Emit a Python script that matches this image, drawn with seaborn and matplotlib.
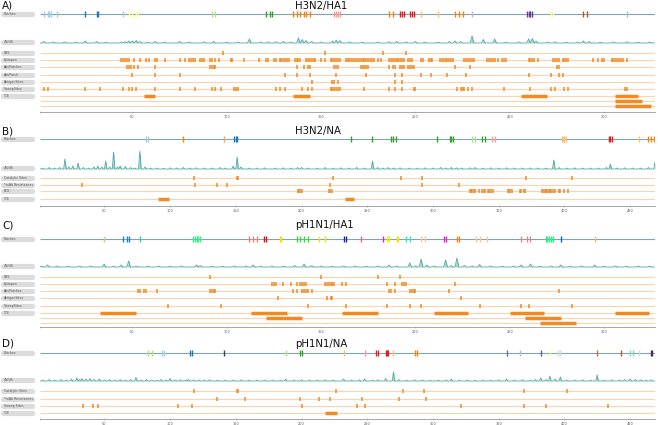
import numpy as np
import pandas as pd
import seaborn as sns
import matplotlib.pyplot as plt
from matplotlib.transforms import blended_transform_factory

sns.set_theme(style="white")
plt.rcParams["font.family"] = ["DejaVu Sans"]

# ---------------- A) H3N2 / HA1 ----------------
a_patch_x = [3, 5, 6, 7, 10, 45, 25, 31, 32, 48, 50, 52, 53, 92, 94, 121, 123, 124,
             135, 137, 139, 141, 142, 144, 157, 158, 159, 160, 186, 188,
             192, 193, 194, 197, 198, 199, 203, 212, 221, 223, 225, 230,
             259, 260, 261, 262, 272, 273, 289, 291, 312]
a_patch_c = ["#a6cee3"] * 6 + ["#1f78b4"] * 3 + ["#ffff99"] * 4 + ["#b2df8a"] * 2 + ["#33a02c"] * 3 + \
            ["#ff7f00"] * 6 + ["#fb9a99"] * 4 + ["#ff7f00"] * 2 + ["#e31a1c"] * 6 + ["#fdbf6f"] * 2 + \
            ["#ff7f00"] * 3 + ["#cab2d6"] + ["#6a3d9a"] * 4 + ["#ffff99"] * 2 + ["#b15928"] * 2 + ["#9cc9c9"]
a_dnds_x = [3, 8, 14, 20, 25, 31, 36, 44, 46, 48, 50, 52, 54, 58, 62, 67, 75, 80, 88, 93, 100, 106,
            112, 118, 122, 126, 130, 134, 138, 140, 142, 145, 150, 156, 158, 160, 165, 172, 180, 186,
            190, 195, 200, 205, 212, 218, 221, 224, 230, 236, 242, 248, 255, 260, 262, 264, 270, 274,
            280, 286, 289, 292, 298, 305, 312, 318, 324]
a_dnds_v = [0.15, 0.1, 0.1, 0.08, 0.2, 0.15, 0.08, 0.1, 0.15, 0.2, 0.2, 0.25, 0.15, 0.1, 0.15, 0.08,
            0.15, 0.1, 0.12, 0.15, 0.08, 0.1, 0.4, 0.1, 0.12, 0.12, 0.15, 0.1, 0.5, 0.35, 0.25, 0.15,
            0.1, 0.2, 0.3, 0.25, 0.1, 0.08, 0.1, 0.12, 0.15, 0.12, 0.15, 0.1, 0.08, 0.15, 0.2, 0.15,
            0.7, 0.35, 0.4, 0.08, 0.1, 0.4, 0.45, 0.2, 0.1, 0.12, 0.08, 0.1, 0.2, 0.15, 0.08, 0.1,
            0.12, 0.08, 0.1]
a_ebs = [98, 152, 183, 195]
a_epitopes = [44, 45, 46, 47, 48, 51, 54, 57, 59, 62, 63, 67, 75, 78, 80, 81, 82, 83, 86, 87, 88,
              91, 92, 94, 96, 102, 103, 109, 117, 121, 122, 125, 126, 128, 129, 130, 131, 132, 133,
              136, 137, 138, 139, 142, 143, 144, 145, 146, 147, 150, 152, 155, 156, 157, 158, 159,
              160, 163, 164, 165, 166, 167, 168, 169, 170, 171, 172, 173, 174, 175, 176, 177, 178,
              180, 182, 186, 187, 188, 189, 190, 191, 192, 193, 194, 196, 197, 198, 203, 204, 207,
              208, 209, 213, 214, 215, 216, 217, 218, 219, 220, 226, 227, 228, 229, 230, 231, 238,
              239, 240, 241, 242, 244, 246, 247, 248, 260, 261, 262, 263, 265, 273, 274, 275, 276,
              278, 279, 280, 281, 294, 297, 299, 300, 304, 305, 306, 307, 308, 309, 310, 312]
a_abspatches = [47, 48, 49, 51, 53, 62, 91, 92, 93, 94, 137, 141, 143, 144, 157, 158, 159, 171, 172,
                173, 174, 175, 186, 188, 189, 192, 193, 194, 196, 197, 198, 199, 221, 229, 275, 276]
a_antipatch = [50, 62, 75, 131, 137, 144, 158, 174, 189, 193, 203, 208, 217, 227, 260, 272, 276, 278]
a_antigen = [145, 156, 157, 159, 189, 193]
a_sweep = [3, 5, 25, 33, 45, 48, 50, 52, 62, 75, 83, 92, 94, 97, 104, 105, 106, 126, 128, 131, 140,
           143, 145, 155, 156, 157, 158, 159, 160, 173, 186, 189, 193, 199, 200, 222, 224, 225, 226,
           228, 230, 247, 261, 272, 274, 279, 281, 311, 312]
a_tce_start = [56, 135, 256, 306, 306, 306]
a_tce_end = [62, 144, 270, 318, 320, 325]
a_tce_row = [0, 0, 0, 0, 1, 2]

# ---------------- B) H3N2 / NA ----------------
b_patch_x = [82, 83, 110, 141, 149, 150, 151, 238, 254, 268, 270, 272, 303, 313, 314, 315,
             330, 332, 337, 340, 345, 347, 398, 399, 400, 401, 434, 435, 436, 457, 464, 466, 468]
b_patch_c = ["#a6cee3"] * 2 + ["#ff7f00"] + ["#f4a55a"] + ["#1f78b4"] * 3 + ["#33a02c"] * 9 + \
            ["#b2df8a"] * 2 + ["#33a02c"] * 2 + ["#fb9a99"] * 2 + ["#fdbf6f"] * 4 + ["#e31a1c"] * 3 + \
            ["#fdbf6f"] + ["#ff7f00"] * 3
b_dnds_x = [3, 8, 12, 16, 20, 23, 26, 30, 34, 38, 42, 45, 48, 51, 54, 57, 60, 62, 66, 70, 73, 77, 81,
            85, 90, 95, 100, 105, 110, 115, 120, 126, 132, 138, 142, 148, 151, 154, 160, 166, 172,
            180, 186, 192, 197, 200, 205, 212, 218, 224, 230, 236, 242, 248, 254, 258, 262, 266, 270,
            275, 282, 288, 294, 300, 306, 310, 314, 318, 322, 328, 332, 338, 344, 350, 356, 362, 368,
            374, 380, 386, 392, 396, 402, 408, 414, 420, 426, 432, 435, 440, 446, 452, 458, 464, 469]
b_dnds_v = [0.1, 0.15, 0.1, 0.15, 1.0, 0.2, 0.3, 0.6, 0.15, 0.1, 0.2, 0.3, 0.2, 0.8, 0.2, 1.7, 0.2,
            0.3, 0.25, 0.15, 0.1, 1.8, 0.2, 0.1, 0.1, 0.08, 0.12, 0.1, 0.15, 0.1, 0.12, 0.1, 0.1,
            0.15, 0.1, 0.3, 1.2, 0.2, 0.1, 0.1, 0.12, 0.1, 0.12, 0.1, 0.15, 0.15, 0.1, 0.1, 0.15,
            0.1, 0.12, 0.1, 0.15, 0.1, 0.8, 0.15, 0.1, 0.15, 0.1, 0.12, 0.1, 0.1, 0.12, 0.1, 0.15,
            0.1, 0.15, 0.12, 0.1, 0.12, 0.15, 0.1, 0.12, 0.1, 0.12, 0.1, 0.1, 0.12, 0.1, 0.1, 0.9,
            0.15, 0.1, 0.12, 0.1, 0.1, 0.1, 0.15, 0.5, 0.1, 0.12, 0.1, 0.1, 0.15, 0.7]
b_catalytic = [118, 151, 152, 224, 276, 292, 371, 406]
b_mab = [33, 119, 136, 143, 222, 292, 320]
b_bce = [197, 198, 199, 200, 221, 222, 223, 328, 329, 330, 331, 332, 335, 337, 339, 340, 342, 343,
         344, 346, 357, 358, 359, 360, 366, 367, 369, 370, 383, 384, 385, 386, 387, 388, 389, 390,
         391, 393, 396, 397, 400, 403]
b_tce_start = [91, 233]
b_tce_end = [99, 240]
b_tce_row = [0, 0]

# ---------------- C) pH1N1 / HA1 ----------------
c_patch_x = [35, 45, 47, 48, 54, 82, 83, 84, 85, 86, 112, 114, 116, 120, 121, 128, 129,
             137, 139, 141, 143, 149, 152, 162, 163, 171, 183, 185, 186, 190, 191, 195, 197,
             203, 205, 215, 216, 222, 223, 232, 234, 238, 256, 259, 261,
             269, 270, 271, 272, 273, 277, 295]
c_patch_c = ["#e8c27a"] + ["#1e7fe0"] * 3 + ["#22d9a0"] + ["#30f080"] * 5 + ["#f08080"] * 3 + \
            ["#e01010"] * 2 + ["#e8e800"] * 2 + ["#30e030"] * 4 + ["#e8e800"] * 2 + ["#2020d0"] * 2 + \
            ["#f06090"] + ["#e020e0"] + ["#e8e800"] * 4 + ["#30e0e0"] * 2 + ["#f5c8a0"] * 2 + \
            ["#e020e0"] * 2 + ["#f08010"] * 2 + ["#f5c8a0"] * 3 + ["#f08090"] * 3 + ["#20f080"] * 5 + \
            ["#1060e0"] + ["#e8c27a"]
c_dnds_x = [2, 5, 10, 16, 22, 28, 35, 40, 44, 48, 52, 58, 64, 70, 76, 84, 86, 92, 98, 104, 110, 114,
            118, 124, 130, 136, 141, 145, 150, 156, 162, 168, 174, 180, 186, 190, 197, 200, 203, 206,
            210, 216, 219, 222, 226, 230, 234, 240, 246, 252, 256, 261, 266, 272, 277, 282, 288, 295,
            300, 306, 312, 318, 324]
c_dnds_v = [0.1, 0.2, 0.1, 0.08, 0.1, 0.1, 0.3, 0.1, 0.2, 0.6, 0.1, 0.08, 0.1, 0.08, 0.1, 0.2, 0.15,
            0.1, 0.08, 0.1, 0.1, 0.2, 0.1, 0.1, 0.08, 0.15, 0.3, 0.15, 0.1, 0.08, 0.1, 0.1, 0.08,
            0.1, 0.2, 0.1, 0.4, 0.1, 0.8, 0.2, 0.1, 0.7, 0.15, 0.9, 0.15, 0.1, 0.25, 0.1, 0.08, 0.1,
            0.2, 0.3, 0.1, 0.1, 0.2, 0.08, 0.1, 0.2, 0.08, 0.1, 0.08, 0.1, 0.08]
c_ebs = [91, 150, 180, 192]
c_epitopes = [124, 125, 126, 130, 134, 137, 139, 140, 141, 142, 152, 153, 154, 155, 156, 157, 161,
              163, 185, 189, 193, 194, 195, 221]
c_abspatches = [53, 54, 56, 57, 63, 91, 92, 93, 94, 135, 137, 140, 141, 142, 143, 145, 186, 187,
                189, 197, 198, 199, 200, 218, 276]
c_antigen = [127, 153, 155, 156, 224]
c_sweep = [69, 97, 143, 163, 185, 197, 203, 234, 256, 260, 283]
c_tce_start = [33, 113, 121, 161, 210, 250, 258, 266, 306]
c_tce_end = [52, 132, 140, 180, 228, 268, 277, 285, 324]
c_tce_row = [0, 0, 1, 0, 0, 0, 1, 2, 0]

# ---------------- D) pH1N1 / NA ----------------
d_patch_x = [83, 86, 94, 95, 115, 117, 141, 188, 199, 200, 232, 248, 257, 258, 264, 265, 266,
             270, 286, 288, 356, 366, 382, 389, 395, 397, 425, 443, 450, 452, 457, 466, 467]
d_patch_c = ["#b2df8a"] * 2 + ["#a6cee3"] * 2 + ["#1f78b4"] * 2 + ["#3b3b5c"] + ["#b2df8a"] + \
            ["#33a02c"] * 2 + ["#fdbf6f"] + ["#fb9a99"] + ["#e31a1c"] * 5 + ["#fdbf6f"] + \
            ["#ff7f00"] * 2 + ["#7a68a6"] + ["#cab2d6"] + ["#6a5a9a"] + ["#ffff99"] + \
            ["#d9d9d9"] * 2 + ["#c8703c"] + ["#b15928"] + ["#8dd3c7"] * 2 + ["#d9d9d9"] + ["#4b2a6a"] * 2
d_dnds_x = [3, 8, 12, 17, 21, 25, 29, 31, 33, 36, 39, 42, 46, 50, 54, 58, 62, 66, 70, 74, 78, 82, 86,
            90, 93, 97, 100, 104, 108, 112, 114, 118, 122, 126, 130, 136, 142, 148, 154, 160, 166,
            172, 178, 184, 188, 194, 200, 206, 212, 218, 224, 232, 238, 244, 248, 254, 258, 264, 270,
            274, 280, 286, 292, 298, 304, 310, 314, 320, 326, 332, 338, 344, 350, 356, 362, 368, 374,
            378, 382, 386, 389, 393, 397, 402, 408, 414, 420, 425, 430, 436, 442, 446, 450, 454, 458,
            462, 466]
d_dnds_v = [0.1, 0.15, 0.1, 0.15, 0.1, 0.2, 0.3, 0.15, 0.25, 0.2, 0.25, 0.15, 0.2, 0.1, 0.15, 0.1,
            0.15, 0.1, 0.15, 0.35, 0.1, 0.15, 0.1, 0.1, 0.15, 0.1, 0.25, 0.1, 0.12, 0.1, 0.15, 0.12,
            0.1, 0.1, 0.12, 0.1, 0.1, 0.1, 0.12, 0.1, 0.08, 0.1, 0.1, 0.08, 0.2, 0.1, 0.12, 0.1, 0.1,
            0.12, 0.1, 0.2, 0.1, 0.12, 0.2, 0.1, 0.12, 0.25, 0.9, 0.15, 0.1, 0.12, 0.1, 0.08, 0.1,
            0.1, 0.2, 0.08, 0.1, 0.08, 0.1, 0.1, 0.12, 0.2, 0.1, 0.12, 0.1, 0.15, 0.3, 0.15, 0.5,
            0.2, 0.4, 0.1, 0.1, 0.12, 0.1, 0.6, 0.1, 0.12, 0.1, 0.15, 0.2, 0.15, 0.12, 0.1, 0.12]
d_catalytic = [118, 151, 152, 226, 277, 293, 369, 402]
d_mab = [136, 157, 199, 213, 222, 246, 274, 295]
d_sweep = [34, 41, 45, 106, 117, 200, 242, 248, 321, 369, 386, 433]
d_tce_start = [218]
d_tce_end = [227]
d_tce_row = [0]

W, H = 658, 425
ORANGE = "#f28a22"
LIGHT = "#fbd4ad"
TEAL = "#4fa7a1"
TEAL_FILL = "#a3d4cf"
PATCH_LINE = "#7fa6ae"
BOX = "#dcdcdc"

fig = plt.figure(figsize=(W / 100, H / 100), dpi=100)


def label_box(ax, y, text):
    tr = blended_transform_factory(ax.transAxes, ax.transData)
    ax.plot([(3 - 40) / 615, (32 - 40) / 615], [y, y], transform=tr, clip_on=False,
            color=BOX, lw=3.8, solid_capstyle="round")
    ax.text((3.5 - 40) / 615, y, text, transform=tr, fontsize=2.3, color="#555555",
            va="center", ha="left", clip_on=False)


def draw_panel(top, axis_y, length, letter, title, head_y,
               patch_x, patch_c, dnds_x, dnds_v, tracks, track_ys,
               tce_start, tce_end, tce_row, tce_ys, patch_y, dnds_y):
    ax = fig.add_axes([40 / W, 1 - axis_y / H, 615 / W, (axis_y - top) / H])
    ax.patch.set_alpha(0)

    fig.text(2 / W, 1 - head_y / H, letter, fontsize=7.5, va="center", ha="left", color="#111111")
    fig.text(295 / W, 1 - head_y / H, title, fontsize=7.3, va="center", ha="left", color="#111111")

    # patches
    ax.hlines(patch_y, 1, length, color=PATCH_LINE, lw=0.8)
    ax.vlines(patch_x, patch_y - 3.2, patch_y + 3.2, colors=patch_c, lw=1.0)
    label_box(ax, patch_y, "Patches")

    # dN/dS
    prof = np.zeros(length)
    prof[np.array(dnds_x) - 1] = dnds_v
    df = pd.DataFrame({"pos": np.arange(1, length + 1), "y": dnds_y - 10 * prof})
    ax.fill_between(df["pos"], dnds_y, df["y"], color=TEAL_FILL, lw=0)
    sns.lineplot(data=df, x="pos", y="y", ax=ax, color=TEAL, lw=0.6)
    label_box(ax, dnds_y - 0.7, "dN/dS")

    # site tracks
    for (name, sites), y in zip(tracks, track_ys):
        ax.hlines(y, 1, length, color=LIGHT, lw=0.8)
        if sites:
            ax.vlines(sites, y - 1.7, y + 1.7, color=ORANGE, lw=1.1)
        label_box(ax, y, name)

    # TCE
    for y in tce_ys:
        ax.hlines(y, 1, length, color=LIGHT, lw=0.8)
    for s, e, r in zip(tce_start, tce_end, tce_row):
        ax.hlines(tce_ys[r], s, e, color=ORANGE, lw=2.5)
    label_box(ax, tce_ys[0], "TCE")

    ax.set_xlim(1, length)
    ax.set_ylim(axis_y, top)
    ax.set_xlabel("")
    ax.set_ylabel("")
    ax.set_yticks([])
    ticks = [1] + list(range(50, length, 50))
    ax.set_xticks(ticks)
    ax.set_xticklabels([""] + [str(t) for t in ticks[1:]])
    ax.tick_params(axis="x", bottom=True, length=2, width=0.4, color="#999999",
                   labelsize=2.5, labelcolor="#555555", pad=1, direction="inout")
    for s in ["top", "left", "right"]:
        ax.spines[s].set_visible(False)
    ax.spines["bottom"].set_color("#999999")
    ax.spines["bottom"].set_linewidth(0.6)


draw_panel(0, 112, 327, "A)", "H3N2/HA1", 6,
           a_patch_x, a_patch_c, a_dnds_x, a_dnds_v,
           [("EBS", a_ebs), ("Epitopes", a_epitopes), ("AbsPatches", a_abspatches),
            ("AntiPatch", a_antipatch), ("AntigenSites", a_antigen), ("SweepSites", a_sweep)],
           [53, 60, 67, 75, 82, 89],
           a_tce_start, a_tce_end, a_tce_row, [96, 101, 106], 14, 43)

draw_panel(120, 206, 469, "B)", "H3N2/NA", 131,
           b_patch_x, b_patch_c, b_dnds_x, b_dnds_v,
           [("Catalytic Sites", b_catalytic), ("*mAb Resistances", b_mab), ("BCE", b_bce)],
           [178, 185, 191],
           b_tce_start, b_tce_end, b_tce_row, [199], 139, 169)

draw_panel(214, 327, 327, "C)", "pH1N1/HA1", 225,
           c_patch_x, c_patch_c, c_dnds_x, c_dnds_v,
           [("EBS", c_ebs), ("Epitopes", c_epitopes), ("AbsPatches", c_abspatches),
            ("AntigenSites", c_antigen), ("SweepSites", c_sweep)],
           [277, 284, 291, 298, 306],
           c_tce_start, c_tce_end, c_tce_row, [313, 318, 323], 239, 267)

draw_panel(334, 419, 469, "D)", "pH1N1/NA", 344,
           d_patch_x, d_patch_c, d_dnds_x, d_dnds_v,
           [("Catalytic Sites", d_catalytic), ("*mAb Resistances", d_mab), ("Sweep Sites", d_sweep)],
           [391, 399, 406],
           d_tce_start, d_tce_end, d_tce_row, [413], 353, 381)

fig.savefig("out.png", dpi=100)
